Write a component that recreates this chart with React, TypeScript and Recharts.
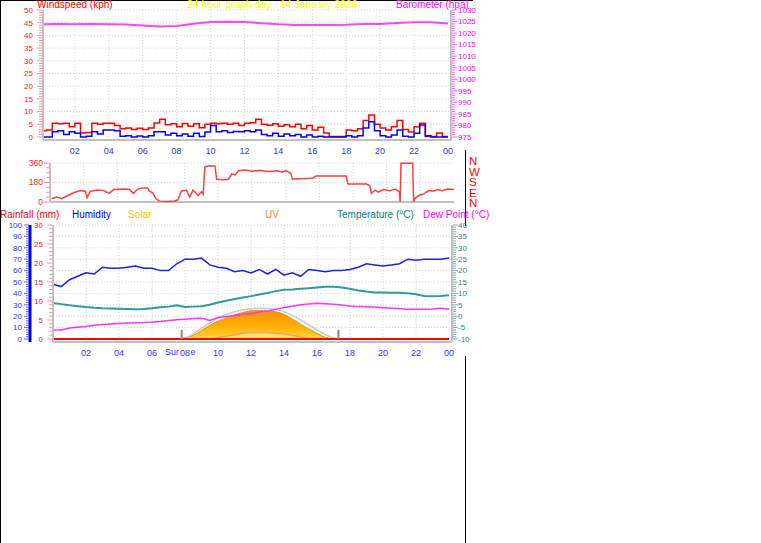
import React from "react";
import {
  ComposedChart,
  Line,
  Area,
  XAxis,
  YAxis,
  CartesianGrid,
  ReferenceLine,
} from "recharts";

const FONT = "'Liberation Sans', Arial, Helvetica, sans-serif";

const range = (a: number, b: number, s: number) =>
  Array.from({ length: Math.round((b - a) / s) + 1 }, (_, i) => a + i * s);

// ---- time axis ----
const hourTicks = [2, 4, 6, 8, 10, 12, 14, 16, 18, 20, 22, 24];
const hourLabels = ["02", "04", "06", "08", "10", "12", "14", "16", "18", "20", "22", "00"];
const gridHours = [2, 4, 6, 8, 10, 12, 14, 16, 18, 20, 22];

// wind speed (kph), every 20 minutes from 00:00
const windHours = range(0, 24, 1 / 3);
const windGust = [
  2.5, 2.8, 5.4, 5.2, 5.4, 4.0, 5.4, 1.6, 1.8, 5.4, 5.0, 5.4, 5.4, 4.5, 3.2, 3.5, 3.0, 3.4, 3.0, 3.5,
  5.5, 7.0, 4.8, 5.2, 4.0, 5.3, 4.2, 5.2, 3.6, 5.0, 5.4, 5.2, 5.4, 5.0, 5.4, 4.5, 5.4, 5.6, 7.0, 5.0,
  4.6, 5.2, 4.2, 4.8, 4.0, 5.0, 3.2, 4.5, 2.8, 3.8, 1.6, 0.2, 0.2, 0.2, 2.8, 2.5, 3.2, 6.5, 8.7, 5.0,
  3.5, 2.8, 4.0, 6.5, 3.0, 2.0, 4.0, 5.4, 0.2, 0.2, 1.6, 0.2, 0.2,
];
const windAvg = [
  0, 0, 2.1, 2.5, 1.0, 2.1, 1.5, 0, 0.3, 2.1, 1.2, 2.8, 2.8, 2.5, 0.3, 0.5, 0, 0.4, 0, 0.5,
  2.1, 2.1, 0.8, 1.5, 0.5, 1.2, 0.3, 1.5, 0.2, 2.0, 4.5, 2.1, 2.5, 1.8, 2.2, 2.1, 2.5, 2.1, 2.8, 1.0,
  0.5, 1.5, 0.3, 1.2, 0.5, 1.0, 0, 0.8, 0, 0.3, 0, 0, 0, 0, 0.5, 0, 0.5, 3.5, 6.0, 2.5,
  0.5, 0, 0.8, 2.8, 0.3, 0, 1.5, 4.7, 0.5, 0, 0, 0, 0,
];

// barometer (hPa), hourly
const baroHours = range(0, 24, 1);
const baroHpa = [
  1023.8, 1023.9, 1023.8, 1023.9, 1023.8, 1023.7, 1023.3, 1022.9, 1023.1, 1024.0, 1024.8, 1024.9,
  1024.8, 1024.3, 1023.8, 1023.5, 1023.5, 1023.5, 1023.6, 1023.9, 1023.9, 1024.4, 1024.7, 1024.7, 1024.2,
];

// wind direction (degrees)
const dirHours = [
  0.1, 0.4, 0.7, 1.0, 1.4, 1.8, 2.1, 2.2, 2.4, 2.8, 3.2, 3.5, 3.8, 4.3, 4.7, 4.95, 5.2, 5.5, 5.8, 5.9,
  6.1, 6.3, 6.5, 7.0, 7.4, 7.6, 7.8, 8.1, 8.3, 8.5, 8.8, 9.0, 9.1, 9.2, 9.5, 9.8, 9.9, 10.3, 10.6, 10.8,
  11.0, 11.2, 11.6, 12.0, 12.5, 13.0, 13.5, 13.8, 14.0, 14.3, 14.4, 15.0, 15.6, 15.8, 17.0, 17.6, 17.7, 18.8, 19.0, 19.1,
  19.3, 19.5, 19.8, 20.2, 20.5, 20.75, 20.8, 20.85, 21.55, 21.6, 21.7, 21.9, 22.2, 22.5, 22.8, 23.0, 23.3, 23.6, 24.0,
];
const dirDeg = [
  30, 45, 30, 55, 85, 105, 100, 40, 100, 110, 105, 80, 115, 120, 118, 80, 117, 130, 130, 100,
  85, 30, 8, 5, 10, 20, 100, 110, 45, 110, 60, 95, 70, 326, 335, 330, 210, 205, 210, 260,
  250, 289, 295, 285, 290, 282, 288, 275, 290, 265, 212, 215, 220, 240, 240, 240, 166, 166, 150, 80,
  110, 90, 115, 105, 120, 95, 3, 357, 357, 3, 34, 60, 75, 105, 100, 115, 105, 120, 115,
];

// half-hourly series for the lower panel
const halfHours = range(0, 24, 0.5);
const humidity = [
  48, 46, 52, 55, 58, 57, 63, 62, 62, 63, 64, 62, 62, 60, 60, 66, 70, 70, 71, 65,
  63, 62, 59, 60, 58, 61, 57, 61, 56, 58, 55, 61, 60, 59, 60, 60, 61, 63, 66, 65,
  64, 65, 66, 70, 69, 70, 70, 70, 71,
];
const temperature = [
  5.8, 5.3, 4.8, 4.4, 4.0, 3.7, 3.5, 3.4, 3.3, 3.2, 3.1, 3.2, 3.5, 3.9, 4.2, 4.8, 4.0, 4.2, 4.4, 5.0,
  6.0, 6.8, 7.5, 8.2, 8.8, 9.5, 10.2, 11.0, 11.6, 11.7, 12.0, 12.3, 12.6, 12.9, 12.9, 12.6, 12.0, 11.3, 10.8, 10.4,
  10.4, 10.3, 10.3, 10.1, 9.6, 8.9, 8.8, 8.9, 9.2,
];
const dewPoint = [
  -6.0, -6.0, -5.2, -4.8, -4.5, -4.0, -3.6, -3.4, -3.2, -3.0, -2.9, -2.8, -2.6, -2.3, -1.9, -1.6, -1.3, -1.0, -0.9, -1.9,
  -0.6, -0.1, 0.3, 0.7, 1.2, 1.8, 2.3, 3.0, 3.8, 4.4, 5.0, 5.4, 5.7, 5.5, 5.2, 4.9, 4.5, 4.2, 4.1, 4.0,
  3.7, 3.5, 3.3, 3.1, 3.1, 3.0, 3.2, 3.5, 3.1,
];
const solar = [
  0, 0, 0, 0, 0, 0, 0, 0, 0, 0, 0, 0, 0, 0, 0, 0, 10, 30, 75, 120,
  155, 185, 212, 232, 248, 250, 245, 238, 215, 175, 130, 88, 50, 15, 2, 0, 0, 0, 0, 0,
  0, 0, 0, 0, 0, 0, 0, 0, 0,
];
const solarMax = [
  0, 0, 0, 0, 0, 0, 0, 0, 0, 0, 0, 0, 0, 0, 0, 0, 8, 45, 95, 140,
  185, 215, 238, 255, 265, 270, 268, 258, 240, 210, 170, 125, 80, 40, 8, 0, 0, 0, 0, 0,
  0, 0, 0, 0, 0, 0, 0, 0, 0,
];
const uvIndex = [
  0, 0, 0, 0, 0, 0, 0, 0, 0, 0, 0, 0, 0, 0, 0, 0, 0, 0, 0, 0,
  0.2, 0.4, 0.6, 0.8, 0.9, 0.9, 0.9, 0.8, 0.7, 0.5, 0.3, 0.1, 0, 0, 0, 0, 0, 0, 0, 0,
  0, 0, 0, 0, 0, 0, 0, 0, 0,
];
const rainHours = [0, 24];
const rainMm = [0, 0];
const sunTimes = [7.8, 17.3];

const windData = windHours.map((h, i) => ({ h, gust: windGust[i], avg: windAvg[i] }));
const baroData = baroHours.map((h, i) => ({ h, baro: baroHpa[i] }));
const dirData = dirHours.map((h, i) => ({ h, dir: dirDeg[i] }));
const dayData = halfHours.map((h, i) => ({
  h,
  hum: humidity[i],
  temp: temperature[i],
  dew: dewPoint[i],
  solar: solar[i],
  solarMax: solarMax[i],
  uv: uvIndex[i],
}));
const rainData = rainHours.map((h, i) => ({ h, rain: rainMm[i] }));

type TickOpts = {
  side: "left" | "right";
  color: string;
  tickColor: string;
  every: number;
  gap: number;
  size?: number;
};

function yTick(o: TickOpts) {
  return (p: any) => {
    const v = Number(p.payload.value);
    const major = Math.abs(v % o.every) < 1e-6;
    const d = o.side === "left" ? -1 : 1;
    const len = major ? 5 : 3;
    return (
      <g>
        <line x1={p.x + d} x2={p.x + d * (1 + len)} y1={p.y} y2={p.y} stroke={o.tickColor} />
        {major && (
          <text
            x={p.x + d * o.gap}
            y={p.y}
            dy="0.35em"
            textAnchor={o.side === "left" ? "end" : "start"}
            fill={o.color}
            fontSize={o.size ?? 8}
            fontFamily={FONT}
          >
            {v}
          </text>
        )}
      </g>
    );
  };
}

const xTick = (p: any) => {
  const v = Number(p.payload.value);
  const label = hourLabels[hourTicks.indexOf(v)] ?? "";
  return (
    <g>
      <rect x={p.x - 6} y={p.y + 6} width={12} height={10} fill="#fff" />
      <text x={p.x} y={p.y + 11} dy="0.35em" textAnchor="middle" fill="#3333ff" fontSize={9} fontFamily={FONT}>
        {label}
      </text>
    </g>
  );
};

const Txt = ({ x, y, color, size = 10, children }: any) => (
  <div
    style={{
      position: "absolute",
      left: x,
      top: y,
      color,
      fontSize: size,
      lineHeight: 1,
      whiteSpace: "nowrap",
    }}
  >
    {children}
  </div>
);

const gridStyle = { stroke: "#d4d4d4", strokeDasharray: "1 2" };
const frameAxis = { stroke: "#c0c0c0", strokeWidth: 2 };

export default function App() {
  return (
    <div
      style={{
        position: "fixed",
        left: 0,
        top: 0,
        width: 761,
        height: 543,
        background: "#fff",
        overflow: "hidden",
        fontFamily: FONT,
      }}
    >
      {/* page frame */}
      <div style={{ position: "absolute", left: 0, top: 0, width: 1, height: 543, background: "#000" }} />
      <div style={{ position: "absolute", left: 0, top: 0, width: 473, height: 1, background: "#000" }} />
      <div style={{ position: "absolute", left: 465, top: 150, width: 1, height: 76, background: "#000" }} />
      <div style={{ position: "absolute", left: 465, top: 356, width: 1, height: 187, background: "#000" }} />

      {/* upper titles */}
      <Txt x={37} y={0} color="#ff0000">Windspeed (kph)</Txt>
      <Txt x={187} y={0} color="#ffff00" size={10.4}>24 hour graph day : 14 January 2026</Txt>
      <Txt x={396} y={0} color="#ff00ff">Barometer (hpa)</Txt>

      {/* wind speed + barometer */}
      <div style={{ position: "absolute", left: 0, top: 0 }}>
        <ComposedChart width={500} height={160} data={windData} margin={{ top: 10, right: 0, bottom: 0, left: 0 }}>
          <CartesianGrid {...gridStyle} yAxisId="wind" horizontalValues={range(5, 50, 5)} verticalValues={gridHours} />
          <XAxis
            type="number"
            dataKey="h"
            domain={[0.12, 24.18]}
            allowDataOverflow
            ticks={hourTicks}
            interval={0}
            height={20}
            tickSize={0}
            tickMargin={0}
            tickLine={false}
            axisLine={frameAxis}
            tick={xTick}
          />
          <YAxis
            yAxisId="wind"
            domain={[0, 50]}
            ticks={range(0, 50, 1)}
            interval={0}
            width={43}
            padding={{ top: 0, bottom: 3 }}
            tickSize={0}
            tickMargin={0}
            tickLine={false}
            axisLine={frameAxis}
            tick={yTick({ side: "left", color: "#ff2020", tickColor: "#ff9090", every: 5, gap: 10 })}
          />
          <YAxis
            yAxisId="baro"
            orientation="right"
            domain={[975, 1030]}
            ticks={range(975, 1030, 1)}
            interval={0}
            width={49}
            padding={{ top: 0, bottom: 3 }}
            tickSize={0}
            tickMargin={0}
            tickLine={false}
            axisLine={frameAxis}
            tick={yTick({ side: "right", color: "#ff00ff", tickColor: "#ff60ff", every: 5, gap: 7 })}
          />
          <Line yAxisId="wind" dataKey="gust" type="stepAfter" stroke="#ff0000" strokeWidth={1.5} dot={false} isAnimationActive={false} />
          <Line yAxisId="wind" dataKey="avg" type="stepAfter" stroke="#0000ff" strokeWidth={1.5} dot={false} isAnimationActive={false} />
          <Line yAxisId="baro" data={baroData} dataKey="baro" type="linear" stroke="#ff44ff" strokeWidth={2} dot={false} isAnimationActive={false} />
        </ComposedChart>
      </div>

      {/* wind direction */}
      <div style={{ position: "absolute", left: 0, top: 155 }}>
        <ComposedChart width={500} height={56} data={dirData} margin={{ top: 8, right: 46, bottom: 9, left: 0 }}>
          <CartesianGrid {...gridStyle} yAxisId="dir" horizontalValues={[180, 360]} verticalValues={gridHours} />
          <XAxis type="number" dataKey="h" domain={[0, 24]} hide />
          <YAxis
            yAxisId="dir"
            domain={[0, 360]}
            ticks={range(0, 360, 45)}
            interval={0}
            width={50}
            tickSize={0}
            tickMargin={0}
            tickLine={false}
            axisLine={frameAxis}
            tick={yTick({ side: "left", color: "#ff2020", tickColor: "#ff9090", every: 180, gap: 7, size: 8.5 })}
          />
          <ReferenceLine yAxisId="dir" y={0} stroke="#c0c0c0" strokeWidth={2} />
          <Line yAxisId="dir" dataKey="dir" type="linear" stroke="#ff4040" strokeWidth={1.5} dot={false} isAnimationActive={false} />
        </ComposedChart>
      </div>

      {/* compass letters */}
      <div
        style={{
          position: "absolute",
          left: 469,
          top: 156,
          color: "#ff0000",
          fontSize: 11.5,
          lineHeight: "10.5px",
          width: 12,
        }}
      >
        <div>N</div>
        <div>W</div>
        <div>S</div>
        <div>E</div>
        <div>N</div>
      </div>

      {/* lower titles */}
      <Txt x={0} y={210} color="#ff0000">Rainfall (mm)</Txt>
      <Txt x={72} y={210} color="#0000ff">Humidity</Txt>
      <Txt x={128} y={210} color="#ffc000">Solar</Txt>
      <Txt x={265} y={210} color="#ff8040">UV</Txt>
      <Txt x={337} y={210} color="#008080">Temperature (°C)</Txt>
      <Txt x={423} y={210} color="#ff00ff">Dew Point (°C)</Txt>

      <Txt x={165} y={348} color="#3333ff" size={9}>Sunrise</Txt>

      {/* humidity, temperature, solar */}
      <div style={{ position: "absolute", left: 0, top: 220 }}>
        <ComposedChart width={500} height={143} data={dayData} margin={{ top: 5, right: 0, bottom: 0, left: 0 }}>
          <defs>
            <linearGradient id="solarFill" x1="0" y1="0" x2="0" y2="1">
              <stop offset="0%" stopColor="#f29400" />
              <stop offset="50%" stopColor="#ffab00" />
              <stop offset="100%" stopColor="#ffd83a" />
            </linearGradient>
          </defs>
          <CartesianGrid {...gridStyle} yAxisId="bHum" horizontalValues={range(10, 100, 10)} verticalValues={gridHours} />
          <XAxis
            type="number"
            dataKey="h"
            domain={[0, 24.18]}
            ticks={hourTicks}
            interval={0}
            height={21}
            tickSize={0}
            tickMargin={0}
            tickLine={false}
            axisLine={frameAxis}
            tick={xTick}
          />
          <YAxis
            yAxisId="aRain"
            domain={[0, 30]}
            ticks={range(0, 30, 1)}
            interval={0}
            width={23}
            padding={{ top: 0, bottom: 3 }}
            tickSize={0}
            tickMargin={0}
            tickLine={false}
            axisLine={frameAxis}
            tick={yTick({ side: "left", color: "#ff2020", tickColor: "#ff9090", every: 5, gap: 10 })}
          />
          <YAxis
            yAxisId="bHum"
            domain={[0, 100]}
            ticks={range(0, 100, 2)}
            interval={0}
            width={30}
            padding={{ top: 0, bottom: 3 }}
            tickSize={0}
            tickMargin={0}
            tickLine={false}
            axisLine={{ stroke: "#0000ff", strokeWidth: 3 }}
            tick={yTick({ side: "left", color: "#3030ff", tickColor: "#6060ff", every: 10, gap: 8 })}
          />
          <YAxis
            yAxisId="temp"
            orientation="right"
            domain={[-10, 40]}
            ticks={range(-10, 40, 1)}
            interval={0}
            width={48}
            padding={{ top: 0, bottom: 3 }}
            tickSize={0}
            tickMargin={0}
            tickLine={false}
            axisLine={frameAxis}
            tick={yTick({ side: "right", color: "#2a8a8a", tickColor: "#70b0b0", every: 5, gap: 6 })}
          />
          <YAxis yAxisId="solar" hide domain={[0, 1000]} padding={{ top: 0, bottom: 3 }} />
          <YAxis yAxisId="uv" hide domain={[0, 16]} padding={{ top: 0, bottom: 3 }} />

          <Area yAxisId="solar" dataKey="solar" type="monotone" fill="url(#solarFill)" fillOpacity={1} stroke="#ee8c00" strokeWidth={1} isAnimationActive={false} />
          <Area yAxisId="uv" dataKey="uv" type="monotone" fill="#ffe36a" fillOpacity={1} stroke="#f4a060" strokeWidth={1.5} isAnimationActive={false} />
          <Line yAxisId="solar" dataKey="solarMax" type="monotone" stroke="#c8c8c8" strokeWidth={1.5} dot={false} isAnimationActive={false} />
          <Line yAxisId="aRain" data={rainData} dataKey="rain" type="linear" stroke="#ff0000" strokeWidth={2} dot={false} isAnimationActive={false} />
          {sunTimes.map((t) => (
            <ReferenceLine key={t} yAxisId="bHum" segment={[{ x: t, y: 0 }, { x: t, y: 8 }]} stroke="#a08060" strokeWidth={2} />
          ))}
          <Line yAxisId="bHum" dataKey="hum" type="linear" stroke="#2020e0" strokeWidth={1.5} dot={false} isAnimationActive={false} />
          <Line yAxisId="temp" dataKey="temp" type="linear" stroke="#339999" strokeWidth={2} dot={false} isAnimationActive={false} />
          <Line yAxisId="temp" dataKey="dew" type="linear" stroke="#ff33ff" strokeWidth={1.5} dot={false} isAnimationActive={false} />
        </ComposedChart>
      </div>
    </div>
  );
}
